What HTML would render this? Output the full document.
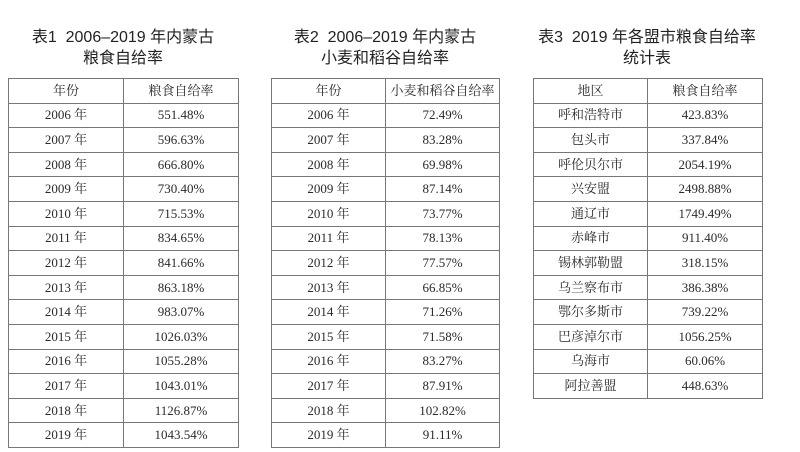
<!DOCTYPE html>
<html><head><meta charset="utf-8"><style>
body{margin:0;width:800px;height:452px;background:#fff;position:relative;overflow:hidden}
.t{position:absolute;text-align:center;font-family:"Liberation Sans","Noto Sans CJK SC",sans-serif;font-size:16px;line-height:21px;color:#222}
table{position:absolute;border-collapse:collapse;top:78px;font-family:"Liberation Serif","Noto Serif CJK SC",serif;font-size:13px;color:#2a2a2a;table-layout:fixed}
td{border:1px solid #777;height:23.6px;padding:0;text-align:center;vertical-align:middle;line-height:14px;white-space:nowrap;overflow:hidden}
</style></head><body>
<div class="t" style="left:0;width:246px;top:27px">表1&nbsp; 2006–2019 年内蒙古<br>粮食自给率</div>
<div class="t" style="left:263px;width:244px;top:27px">表2&nbsp; 2006–2019 年内蒙古<br>小麦和稻谷自给率</div>
<div class="t" style="left:520px;width:254px;top:27px">表3&nbsp; 2019 年各盟市粮食自给率<br>统计表</div>

<table style="left:8px;width:231px"><colgroup><col style="width:115px"><col></colgroup>
<tr><td>年份</td><td>粮食自给率</td></tr>
<tr><td>2006 年</td><td>551.48%</td></tr>
<tr><td>2007 年</td><td>596.63%</td></tr>
<tr><td>2008 年</td><td>666.80%</td></tr>
<tr><td>2009 年</td><td>730.40%</td></tr>
<tr><td>2010 年</td><td>715.53%</td></tr>
<tr><td>2011 年</td><td>834.65%</td></tr>
<tr><td>2012 年</td><td>841.66%</td></tr>
<tr><td>2013 年</td><td>863.18%</td></tr>
<tr><td>2014 年</td><td>983.07%</td></tr>
<tr><td>2015 年</td><td>1026.03%</td></tr>
<tr><td>2016 年</td><td>1055.28%</td></tr>
<tr><td>2017 年</td><td>1043.01%</td></tr>
<tr><td>2018 年</td><td>1126.87%</td></tr>
<tr><td>2019 年</td><td>1043.54%</td></tr>
</table>

<table style="left:271px;width:229px"><colgroup><col style="width:114px"><col></colgroup>
<tr><td>年份</td><td>小麦和稻谷自给率</td></tr>
<tr><td>2006 年</td><td>72.49%</td></tr>
<tr><td>2007 年</td><td>83.28%</td></tr>
<tr><td>2008 年</td><td>69.98%</td></tr>
<tr><td>2009 年</td><td>87.14%</td></tr>
<tr><td>2010 年</td><td>73.77%</td></tr>
<tr><td>2011 年</td><td>78.13%</td></tr>
<tr><td>2012 年</td><td>77.57%</td></tr>
<tr><td>2013 年</td><td>66.85%</td></tr>
<tr><td>2014 年</td><td>71.26%</td></tr>
<tr><td>2015 年</td><td>71.58%</td></tr>
<tr><td>2016 年</td><td>83.27%</td></tr>
<tr><td>2017 年</td><td>87.91%</td></tr>
<tr><td>2018 年</td><td>102.82%</td></tr>
<tr><td>2019 年</td><td>91.11%</td></tr>
</table>

<table style="left:533px;width:230px"><colgroup><col style="width:114px"><col></colgroup>
<tr><td>地区</td><td>粮食自给率</td></tr>
<tr><td>呼和浩特市</td><td>423.83%</td></tr>
<tr><td>包头市</td><td>337.84%</td></tr>
<tr><td>呼伦贝尔市</td><td>2054.19%</td></tr>
<tr><td>兴安盟</td><td>2498.88%</td></tr>
<tr><td>通辽市</td><td>1749.49%</td></tr>
<tr><td>赤峰市</td><td>911.40%</td></tr>
<tr><td>锡林郭勒盟</td><td>318.15%</td></tr>
<tr><td>乌兰察布市</td><td>386.38%</td></tr>
<tr><td>鄂尔多斯市</td><td>739.22%</td></tr>
<tr><td>巴彦淖尔市</td><td>1056.25%</td></tr>
<tr><td>乌海市</td><td>60.06%</td></tr>
<tr><td>阿拉善盟</td><td>448.63%</td></tr>
</table>
</body></html>
